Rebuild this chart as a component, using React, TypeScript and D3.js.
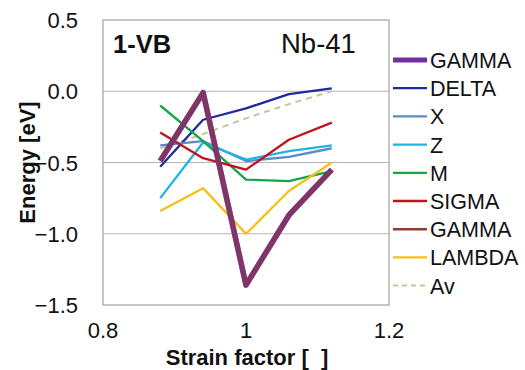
import React from "react";
import * as d3 from "d3";

const strain = [0.88, 0.94, 1.0, 1.06, 1.12];
const gamma = [-0.49, -0.01, -1.36, -0.87, -0.55];
const delta = [-0.53, -0.2, -0.12, -0.02, 0.02];
const xPoint = [-0.38, -0.35, -0.49, -0.46, -0.4];
const zPoint = [-0.75, -0.36, -0.48, -0.42, -0.38];
const mPoint = [-0.1, -0.35, -0.62, -0.63, -0.56];
const sigma = [-0.29, -0.47, -0.55, -0.34, -0.22];
const gamma2 = [-0.49, -0.01, -1.36, -0.87, -0.55];
const lambda = [-0.84, -0.68, -1.0, -0.7, -0.5];
const average = [-0.4, -0.3, -0.19, -0.09, 0.0];

const yTicks = [0.5, 0.0, -0.5, -1.0, -1.5];
const xTicks = [0.8, 1.0, 1.2];

const series = [
  { name: "GAMMA", values: gamma, color: "#7030a0", width: 5.5 },
  { name: "DELTA", values: delta, color: "#1f2a9e", width: 2.3 },
  { name: "X", values: xPoint, color: "#5b8ac8", width: 2.3 },
  { name: "Z", values: zPoint, color: "#1fb4e6", width: 2.3 },
  { name: "M", values: mPoint, color: "#17a44f", width: 2.3 },
  { name: "SIGMA", values: sigma, color: "#c0141c", width: 2.3 },
  { name: "GAMMA", values: gamma2, color: "#8e3b3b", width: 5.5, opacity: 0.55 },
  { name: "LAMBDA", values: lambda, color: "#f5bf17", width: 2.3 },
  { name: "Av", values: average, color: "#c4c49a", width: 2, dash: "6,5" },
];

// thick gamma lines go on top
const drawOrder = [8, 1, 2, 3, 4, 5, 7, 0, 6];

export default function App() {
  const width = 525;
  const height = 370;
  const left = 103;
  const right = 389;
  const top = 20;
  const bottom = 305;
  const font = "'Liberation Sans', Arial, sans-serif";

  const x = d3.scaleLinear().domain([0.8, 1.2]).range([left, right]);
  const y = d3.scaleLinear().domain([-1.5, 0.5]).range([bottom, top]);

  const line = d3
    .line<number>()
    .x((d, i) => x(strain[i]))
    .y((d) => y(d));

  const fmt = d3.format(".1f");

  return (
    <svg
      width={width}
      height={height}
      style={{ position: "absolute", left: 0, top: 0, background: "#fff" }}
    >
      <rect x={0} y={0} width={width} height={height} fill="#fff" />
      {yTicks.map((t) => (
        <g key={t}>
          {t > -1.5 && t < 0.5 && (
            <line x1={left} x2={right} y1={y(t)} y2={y(t)} stroke="#b4b4b4" strokeWidth={1.2} />
          )}
          <text
            x={78}
            y={y(t) + 8}
            textAnchor="end"
            fontFamily={font}
            fontSize={22}
            fill="#111"
          >
            {fmt(t)}
          </text>
        </g>
      ))}
      <rect
        x={left}
        y={top}
        width={right - left}
        height={bottom - top}
        fill="none"
        stroke="#a0a0a0"
        strokeWidth={1.2}
      />
      {xTicks.map((t) => (
        <text
          key={t}
          x={x(t)}
          y={338}
          textAnchor="middle"
          fontFamily={font}
          fontSize={22}
          fill="#111"
        >
          {t === 1 ? "1" : fmt(t)}
        </text>
      ))}
      {drawOrder.map((i) => {
        const s = series[i];
        return (
          <path
            key={i}
            d={line(s.values) || ""}
            fill="none"
            stroke={s.color}
            strokeWidth={s.width}
            strokeOpacity={s.opacity ?? 1}
            strokeDasharray={s.dash}
            strokeLinejoin="round"
          />
        );
      })}
      <text x={113} y={53} fontFamily={font} fontSize={25.5} fontWeight="bold" fill="#111">
        1-VB
      </text>
      <text x={281} y={53} fontFamily={font} fontSize={27.5} fill="#111">
        Nb-41
      </text>
      {series.map((s, i) => {
        const ly = 60 + i * 28.2;
        return (
          <g key={i}>
            <line
              x1={393}
              x2={427}
              y1={ly}
              y2={ly}
              stroke={i === 6 ? "#8e3b3b" : s.color}
              strokeWidth={i === 6 ? 2.5 : i === 0 ? 5 : s.width}
              strokeDasharray={s.dash ? "5,4" : undefined}
            />
            <text x={430} y={ly + 8} fontFamily={font} fontSize={21.5} fill="#111">
              {s.name}
            </text>
          </g>
        );
      })}
      <text
        x={247}
        y={365}
        textAnchor="middle"
        fontFamily={font}
        fontSize={22}
        fontWeight="bold"
        fill="#111"
        style={{ whiteSpace: "pre" }}
      >
        {"Strain factor [  ]"}
      </text>
      <text
        transform={`translate(35, ${(top + bottom) / 2}) rotate(-90)`}
        textAnchor="middle"
        fontFamily={font}
        fontSize={22}
        fontWeight="bold"
        fill="#111"
      >
        Energy [eV]
      </text>
    </svg>
  );
}
